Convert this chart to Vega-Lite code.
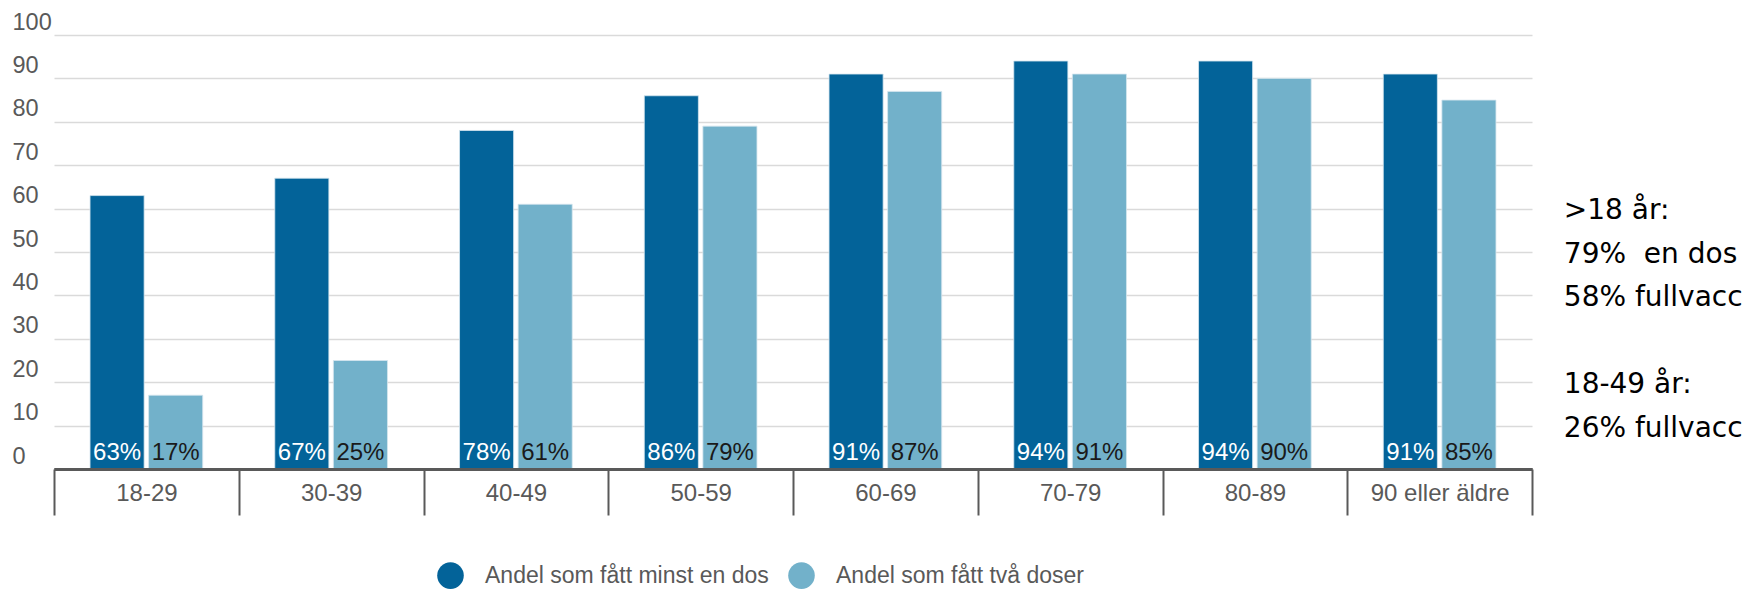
{
  "$schema": "https://vega.github.io/schema/vega-lite/v6.json",
  "autosize": {"type": "none"},
  "padding": {"left": 12, "top": 35, "right": 214, "bottom": 121},
  "width": 1520,
  "height": 434,
  "background": "white",
  "config": {
    "view": {"stroke": null},
    "font": "Liberation Sans"
  },
  "title": {
    "text": [">18 år:", "79%\u00a0 en dos", "58% fullvacc", "\u200b", "18-49 år:", "26% fullvacc"],
    "orient": "right",
    "anchor": "start",
    "frame": "group",
    "angle": 0,
    "align": "left",
    "baseline": "alphabetic",
    "offset": 31,
    "dx": -179,
    "dy": 184,
    "font": "DejaVu Sans",
    "fontSize": 28,
    "fontWeight": "normal",
    "color": "#000000",
    "lineHeight": 43.6
  },
  "data": {
    "values": [
      {"age": "18-29", "s": "Andel som fått minst en dos", "v": 63},
      {"age": "18-29", "s": "Andel som fått två doser", "v": 17},
      {"age": "30-39", "s": "Andel som fått minst en dos", "v": 67},
      {"age": "30-39", "s": "Andel som fått två doser", "v": 25},
      {"age": "40-49", "s": "Andel som fått minst en dos", "v": 78},
      {"age": "40-49", "s": "Andel som fått två doser", "v": 61},
      {"age": "50-59", "s": "Andel som fått minst en dos", "v": 86},
      {"age": "50-59", "s": "Andel som fått två doser", "v": 79},
      {"age": "60-69", "s": "Andel som fått minst en dos", "v": 91},
      {"age": "60-69", "s": "Andel som fått två doser", "v": 87},
      {"age": "70-79", "s": "Andel som fått minst en dos", "v": 94},
      {"age": "70-79", "s": "Andel som fått två doser", "v": 91},
      {"age": "80-89", "s": "Andel som fått minst en dos", "v": 94},
      {"age": "80-89", "s": "Andel som fått två doser", "v": 90},
      {"age": "90 eller äldre", "s": "Andel som fått minst en dos", "v": 91},
      {"age": "90 eller äldre", "s": "Andel som fått två doser", "v": 85}
    ]
  },
  "encoding": {
    "x": {
      "field": "age",
      "type": "nominal",
      "sort": null,
      "scale": {"range": [42, 1520], "paddingInner": 0, "paddingOuter": 0},
      "axis": {
        "title": null,
        "labelAngle": 0,
        "labelFont": "Liberation Sans",
        "labelFontSize": 24,
        "labelColor": "#595959",
        "labelBaseline": "alphabetic",
        "labelPadding": -15,
        "tickBand": "extent",
        "tickSize": 46,
        "tickWidth": 2,
        "tickColor": "#595959",
        "domainWidth": 3,
        "domainColor": "#595959",
        "grid": false,
        "zindex": 1
      }
    },
    "xOffset": {
      "field": "s",
      "type": "nominal",
      "scale": {"paddingInner": 0.077, "paddingOuter": 0.615}
    },
    "y": {
      "field": "v",
      "type": "quantitative",
      "scale": {"domain": [0, 100], "nice": false},
      "axis": {
        "title": null,
        "values": [0, 10, 20, 30, 40, 50, 60, 70, 80, 90, 100],
        "domain": false,
        "ticks": false,
        "labelAlign": "left",
        "labelPadding": 0,
        "labelBaseline": "alphabetic",
        "labelOffset": -6,
        "labelFlush": false,
        "labelFont": "Liberation Sans",
        "labelFontSize": 23.5,
        "labelColor": "#595959",
        "grid": true,
        "gridColor": {"condition": {"test": "datum.value === 0", "value": "#595959"}, "value": "#dadada"},
        "gridWidth": {"condition": {"test": "datum.value === 0", "value": 3}, "value": 1.5}
      }
    }
  },
  "layer": [
    {
      "mark": {"type": "bar", "stroke": "#d5e6ef", "strokeWidth": 0.8},
      "encoding": {
        "color": {
          "field": "s",
          "type": "nominal",
          "scale": {"range": ["#036399", "#72B1CA"]},
          "legend": {
            "title": null,
            "orient": "none",
            "legendX": 425,
            "legendY": 527,
            "direction": "horizontal",
            "symbolType": "circle",
            "symbolSize": 707,
            "symbolStrokeWidth": 0,
            "labelFont": "Liberation Sans",
            "labelFontSize": 23,
            "labelColor": "#595959",
            "labelOffset": 21,
            "labelLimit": 400,
            "columnPadding": 19
          }
        }
      }
    },
    {
      "mark": {
        "type": "text",
        "baseline": "alphabetic",
        "align": "center",
        "dy": -9,
        "font": "Liberation Sans",
        "fontSize": 24,
        "text": {"expr": "datum.v + '%'"}
      },
      "encoding": {
        "y": {"datum": 0},
        "color": {
          "condition": {"test": "datum.s === 'Andel som fått minst en dos'", "value": "#ffffff"},
          "value": "#1a1a1a"
        }
      }
    }
  ]
}
